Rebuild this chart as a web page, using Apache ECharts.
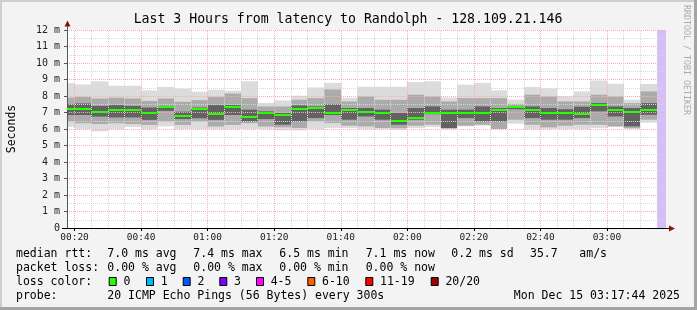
<!DOCTYPE html>
<html><head><meta charset="utf-8">
<script src="https://cdn.jsdelivr.net/npm/echarts@6/dist/echarts.min.js"></script>
<style>html,body{margin:0;padding:0;background:#f3f3f3}#c{width:697px;height:310px}</style>
</head><body><div id="c"></div>
<script>
// ---------- data ----------
const slotStarts = ['00:15','00:20','00:25','00:30','00:35','00:40','00:45','00:50','00:55','01:00','01:05','01:10',
  '01:15','01:20','01:25','01:30','01:35','01:40','01:45','01:50','01:55','02:00','02:05','02:10',
  '02:15','02:20','02:25','02:30','02:35','02:40','02:45','02:50','02:55','03:00','03:05','03:10'];
const medianMs = [7.21,7.21,7.01,7.13,7.13,6.95,7.31,6.81,7.19,6.89,7.35,6.70,
  6.95,6.82,7.19,7.25,6.95,7.13,7.06,7.00,6.46,6.65,6.95,6.95,
  7.00,6.94,7.14,7.36,7.14,7.00,7.00,6.88,7.43,7.14,7.01,7.14];
const smokeMax = [8.78,8.70,8.89,8.62,8.62,8.34,8.55,8.44,8.26,8.38,8.32,8.89,
  7.58,7.73,8.02,8.52,8.79,7.89,8.56,8.56,8.56,8.84,8.89,7.91,
  8.69,8.79,8.34,7.78,8.55,8.46,7.98,8.28,8.94,8.74,7.78,8.73];
const smokeMin = [6.12,6.00,5.86,6.00,6.12,6.00,6.16,6.00,6.00,6.00,6.00,6.00,
  6.00,5.92,5.92,6.00,6.06,6.06,6.00,6.00,5.96,6.06,6.12,6.00,
  6.16,6.20,6.00,6.32,6.00,6.00,6.00,6.00,6.06,6.12,6.00,6.38];
const midHi = [7.90,7.95,7.85,7.90,7.85,7.70,7.85,7.65,7.75,7.95,8.15,7.87,
  7.37,7.37,7.77,7.87,8.40,7.67,7.97,7.77,7.77,8.08,7.97,7.67,
  7.87,7.87,7.87,7.52,8.08,7.97,7.67,7.67,8.08,7.97,7.57,8.28];
const midLo = [6.45,6.35,6.30,6.35,6.30,6.25,6.45,6.25,6.45,6.15,6.25,6.35,
  6.15,6.10,6.06,6.46,6.36,6.20,6.16,6.06,6.05,6.20,6.26,6.03,
  6.20,6.26,6.00,6.56,6.26,6.10,6.20,6.26,6.26,6.16,6.05,6.56];
const coreHi = [7.50,7.55,7.40,7.45,7.40,7.30,7.40,7.05,7.30,7.45,7.45,7.17,
  7.07,6.97,7.43,7.37,7.50,7.27,7.27,7.17,6.97,7.27,7.37,7.17,
  7.17,7.37,7.27,7.37,7.37,7.27,7.20,7.35,7.57,7.37,7.27,7.57];
const coreLo = [6.85,6.85,6.75,6.70,6.70,6.55,7.10,6.60,6.65,6.55,6.85,6.46,
  6.60,6.26,6.46,6.66,6.85,6.56,6.76,6.56,6.26,6.56,6.90,6.06,
  6.66,6.46,6.46,7.20,6.66,6.56,6.56,6.66,7.07,6.76,6.16,6.86];
const stepMinutes = 5;
const viewStart = '00:17:44', viewEnd = '03:17:44', noDataStart = '03:15:00';
const yTicks = [0,1,2,3,4,5,6,7,8,9,10,11,12];
const majorTimes = ['00:20','00:40','01:00','01:20','01:40','02:00','02:20','02:40','03:00'];
const minorTimes = ['00:25','00:30','00:35','00:45','00:50','00:55','01:05','01:10','01:15','01:25','01:30','01:35',
  '01:45','01:50','01:55','02:05','02:10','02:15','02:25','02:30','02:35','02:45','02:50','02:55','03:05','03:10','03:15'];

const titleText = 'Last 3 Hours from latency to Randolph - 128.109.21.146';
const rttLabel = 'median rtt:';
const rttStats = ['7.0 ms avg','7.4 ms max','6.5 ms min','7.1 ms now','0.2 ms sd','35.7','am/s'];
const lossLabel = 'packet loss:';
const lossStats = ['0.00 % avg','0.00 % max','0.00 % min','0.00 % now'];
const lossColorLabel = 'loss color:';
const lossNames = ['0','1','2','3','4-5','6-10','11-19','20/20'];
const lossColors = ['#26ff00','#00b8ff','#0059ff','#7e00ff','#ff00ff','#ff5e00','#ff0000','#a10000'];
const probeLabel = 'probe:';
const probeText = '20 ICMP Echo Pings (56 Bytes) every 300s';
const dateText = 'Mon Dec 15 03:17:44 2025';

// ---------- helpers ----------
function t(s){ const p = s.split(':').map(Number); return new Date(2025,11,15,p[0],p[1],p[2]||0).getTime(); }
const pad = n => (n<10?'0':'')+n;
const STEP = stepMinutes*60000;
const xMin = t(viewStart), xMax = t(viewEnd);
const slotFrom = s => Math.max(t(s), xMin);   // first slot is partly before the window
const bandData = (lo,hi) => slotStarts.map((s,i)=>[slotFrom(s), t(s)+STEP, lo[i], hi[i]]);

function bandSeries(name, lo, hi, color, z){
  return {
    type:'custom', name, z, silent:true, animation:false,
    encode:{x:[0,1], y:[2,3]},
    data: bandData(lo,hi),
    renderItem(params, api){
      const a = api.coord([api.value(0), api.value(3)]);
      const b = api.coord([api.value(1), api.value(2)]);
      const cs = params.coordSys;
      const x0 = Math.round(a[0]), x1 = Math.round(b[0]);
      const r = echarts.graphic.clipRectByRect({x:x0, y:a[1], width:x1-x0, height:b[1]-a[1]},
        {x:cs.x, y:cs.y, width:cs.width, height:cs.height});
      return r ? {type:'rect', shape:r, style:{fill:color, stroke:null}} : null;
    }
  };
}

const FONT = '"DejaVu Sans Mono", "Liberation Mono", monospace';
const statX = [107.3,193.3,279.3,365.7,451.3,530,579.3];
const boxX = [108.7,146,182.7,219.3,256,307.3,365.3,430.7];
const lineY = [254.5,268.3,282.3,295.8];
const legFont = '11.5px ' + FONT;
const g = [];
function txt(x,y,s,opt){ g.push(Object.assign({type:'text', x, y, silent:true, z:100,
  style:Object.assign({text:s, font:legFont, fill:'#000', verticalAlign:'middle', align:'left'}, opt||{})})); }

// frame
g.push({type:'rect', shape:{x:0,y:0,width:697,height:2}, style:{fill:'#cfcfcf'}, silent:true});
g.push({type:'rect', shape:{x:0,y:0,width:2,height:310}, style:{fill:'#cfcfcf'}, silent:true});
g.push({type:'rect', shape:{x:694,y:0,width:3,height:310}, style:{fill:'#a4a4a4'}, silent:true});
g.push({type:'rect', shape:{x:0,y:307,width:697,height:3}, style:{fill:'#a4a4a4'}, silent:true});
// title
txt(348, 19.5, titleText, {font:'13.2px '+FONT, align:'center'});
// vertical credit
g.push({type:'text', x:686, y:5, rotation:-Math.PI/2, silent:true,
  style:{text:'RRDTOOL / TOBI OETIKER', font:'8.3px '+FONT, fill:'#ababab', verticalAlign:'middle', align:'left'}});
// legend lines
txt(16, lineY[0], rttLabel);
rttStats.forEach((s,i)=>txt(statX[i], lineY[0], s));
txt(16, lineY[1], lossLabel);
lossStats.forEach((s,i)=>txt(statX[i], lineY[1], s));
txt(16, lineY[2], lossColorLabel);
lossNames.forEach((s,i)=>{
  g.push({type:'rect', silent:true, z:100, shape:{x:boxX[i]+0.5, y:277.5, width:7, height:8},
    style:{fill:lossColors[i], stroke:'#000', lineWidth:1}});
  txt(boxX[i]+14.7, lineY[2], s);
});
txt(16, lineY[3], probeLabel);
txt(107.3, lineY[3], probeText);
txt(680, lineY[3], dateText, {align:'right'});
// axis extensions + arrows
g.push({type:'line', silent:true, z:100, shape:{x1:67.5,y1:25,x2:67.5,y2:30}, style:{stroke:'#555', lineWidth:1}});
g.push({type:'line', silent:true, z:100, shape:{x1:62,y1:228.5,x2:670,y2:228.5}, style:{stroke:'#000', lineWidth:1}});
g.push({type:'polygon', silent:true, z:101, shape:{points:[[67.5,20.5],[64.5,26.5],[70.5,26.5]]}, style:{fill:'#8b1010'}});
g.push({type:'polygon', silent:true, z:101, shape:{points:[[675,228.5],[669,225.5],[669,231.5]]}, style:{fill:'#8b1010'}});

const chart = echarts.init(document.getElementById('c'), null, {renderer:'canvas'});
const gridCol = '#d6d6d6', majorCol = '#f4b0b0';
const vGrid = minorTimes.map(s=>({xAxis:t(s), lineStyle:{color:gridCol}}))
  .concat(majorTimes.map(s=>({xAxis:t(s), lineStyle:{color:majorCol}})));
const core = bandSeries('smokeCore', coreLo, coreHi, '#626262', 1);
core.markLine = {silent:true, animation:false, symbol:['none','none'], label:{show:false},
  emphasis:{disabled:true}, lineStyle:{type:[1,1], width:1}, data:vGrid};
chart.setOption({
  backgroundColor:'#f3f3f3',
  animation:false,
  grid:{left:67, right:31, top:30, bottom:82, backgroundColor:'#ffffff', show:true, borderWidth:0,
    containLabel:false, outerBoundsMode:'none'},
  xAxis:{
    type:'time', min:xMin, max:xMax, z:4, splitNumber:8,
    axisLine:{show:false},
    axisTick:{show:true, length:3, lineStyle:{color:'#000'}},
    axisLabel:{margin:5, color:'#222', fontFamily:FONT, fontSize:9.5, showMinLabel:false, showMaxLabel:false,
      formatter:v=>{const d=new Date(v); return pad(d.getHours())+':'+pad(d.getMinutes());}},
    splitLine:{show:false},
    minorSplitLine:{show:false}
  },
  yAxis:{
    type:'value', min:yTicks[0], max:yTicks[yTicks.length-1], interval:1, z:4,
    name:'Seconds', nameLocation:'middle', nameRotate:90, nameGap:49,
    nameTextStyle:{fontFamily:FONT, fontSize:11.5, color:'#000'},
    axisLine:{show:true, lineStyle:{color:'#555', width:1}},
    axisTick:{show:true, length:3, lineStyle:{color:'#555'}},
    axisLabel:{margin:7, color:'#222', fontFamily:FONT, fontSize:10,
      formatter:v=> v===0 ? '0' : v+' m'},
    splitLine:{show:true, lineStyle:{color:majorCol, width:1, type:[1,1]}},
    minorTick:{show:false, splitNumber:2},
    minorSplitLine:{show:true, lineStyle:{color:gridCol, width:1, type:[1,1]}}
  },
  series:[
    bandSeries('smokeOuter', smokeMin, smokeMax, '#dcdcdc', 1),
    bandSeries('smokeMid', midLo, midHi, '#ababab', 1),
    core,
    {
      type:'custom', name:'median', z:6, silent:true,
      encode:{x:[0,1], y:2},
      data: slotStarts.map((s,i)=>[slotFrom(s), t(s)+STEP, medianMs[i]]),
      renderItem(params, api){
        const a = api.coord([api.value(0), api.value(2)]);
        const b = api.coord([api.value(1), api.value(2)]);
        const cs = params.coordSys;
        const x0 = Math.round(a[0]), x1 = Math.round(b[0]);
        const r = echarts.graphic.clipRectByRect({x:x0, y:Math.round(a[1])-1, width:x1-x0, height:2},
          {x:cs.x, y:cs.y, width:cs.width, height:cs.height});
        return r ? {type:'rect', shape:r, style:{fill:'#26ff00'}} : null;
      },
      markArea:{silent:true, itemStyle:{color:'#d6bef6', opacity:1},
        data:[[{xAxis:t(noDataStart)},{xAxis:xMax}]]}
    }
  ],
  graphic:g
});
</script></body></html>
